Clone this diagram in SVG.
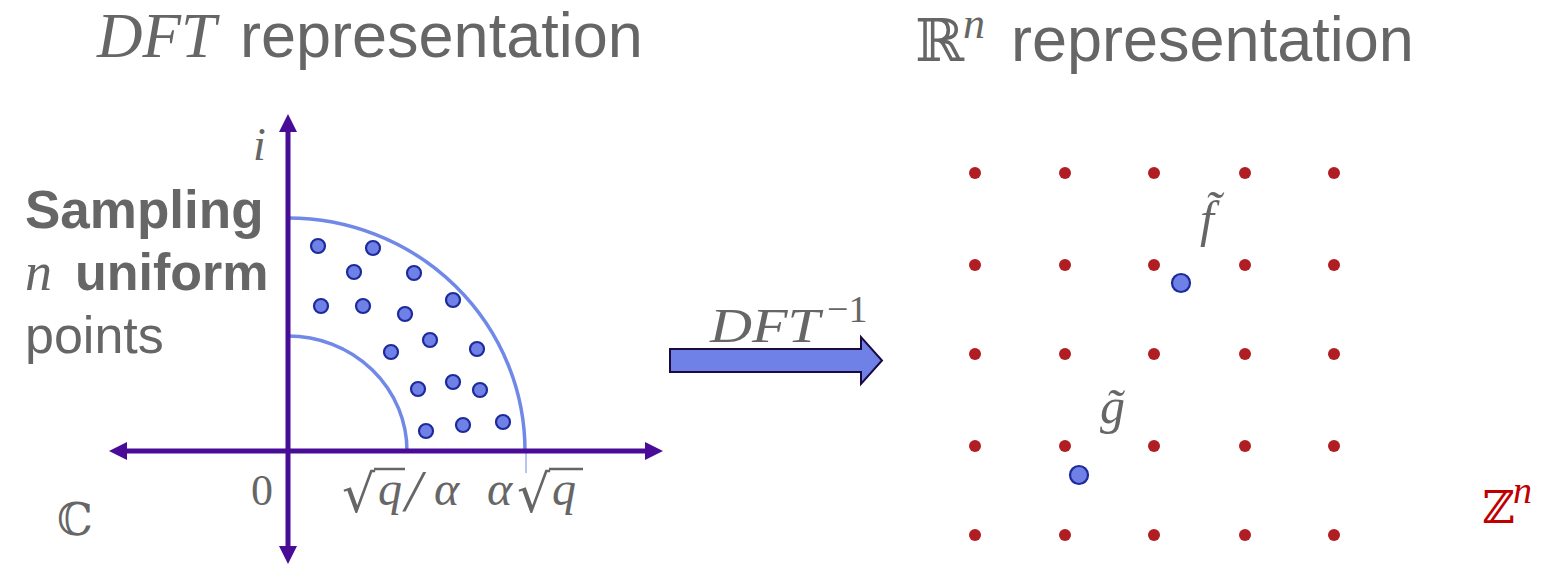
<svg xmlns="http://www.w3.org/2000/svg" width="1543" height="566" viewBox="0 0 1543 566">
<style>
.t{font-family:"Liberation Sans",Arial,sans-serif;fill:#666}
.m{font-family:"Liberation Serif","Times New Roman",serif;font-style:italic;fill:#666}
.mr{font-family:"Liberation Serif","Times New Roman",serif;fill:#666}
.ds{font-family:"DejaVu Serif",serif;fill:#666}
.rt{font-family:"DejaVu Sans",sans-serif;fill:#666}
.b{font-weight:bold}
.arc{fill:none;stroke:#7088e8;stroke-width:3.5}
.pt{fill:#6f80e6;stroke:#1c2a9c;stroke-width:2.2}
.rd{fill:#b01e24}
.red{fill:#c00000}
.ax{stroke:#480c96;stroke-width:5;fill:none}
.vin{stroke:#666;stroke-width:2.5}
</style>
<defs>
<marker id="ah" viewBox="0 0 18 18" refX="4" refY="9" markerWidth="18" markerHeight="18" markerUnits="userSpaceOnUse" orient="auto-start-reverse">
<path d="M0,0 L18,9 L0,18 z" fill="#480c96"/>
</marker>
</defs>

<g id="title-dft">
<text class="m" x="97" y="57" font-size="63">DFT</text>
<text class="t" x="240" y="57" font-size="63">representation</text>
</g>

<g id="title-rn">
<text class="ds" x="915" y="61" font-size="59">ℝ</text>
<text class="m" x="963" y="38" font-size="44">n</text>
<text class="t" x="1011" y="61" font-size="63">representation</text>
</g>

<g id="sampling-label">
<text class="t b" x="25" y="228" font-size="53">Sampling</text>
<text class="m" x="25" y="290" font-size="54">n</text>
<text class="t b" x="75" y="290" font-size="52">uniform</text>
<text class="t" x="25" y="353" font-size="52">points</text>
</g>

<g id="complex-plane">
<path class="arc" d="M288,218 A237,233 0 0 1 525,451"/>
<path class="arc" d="M288,336 A119,115 0 0 1 407,451"/>
<line x1="526" y1="451" x2="526" y2="473" stroke="#7088e8" stroke-width="1"/>
<circle class="pt" cx="318" cy="246" r="7"/>
<circle class="pt" cx="373" cy="248" r="7"/>
<circle class="pt" cx="354" cy="272" r="7"/>
<circle class="pt" cx="414" cy="273" r="7"/>
<circle class="pt" cx="321" cy="306" r="7"/>
<circle class="pt" cx="363" cy="306" r="7"/>
<circle class="pt" cx="405" cy="314" r="7"/>
<circle class="pt" cx="453" cy="300" r="7"/>
<circle class="pt" cx="430" cy="340" r="7"/>
<circle class="pt" cx="391" cy="352" r="7"/>
<circle class="pt" cx="477" cy="349" r="7"/>
<circle class="pt" cx="418" cy="389" r="7"/>
<circle class="pt" cx="453" cy="382" r="7"/>
<circle class="pt" cx="480" cy="390" r="7"/>
<circle class="pt" cx="426" cy="431" r="7"/>
<circle class="pt" cx="463" cy="425" r="7"/>
<circle class="pt" cx="503" cy="422" r="7"/>
<text class="m" x="253" y="160" font-size="46">i</text>
<text class="mr" x="251" y="505" font-size="44">0</text>
<text class="ds" x="57" y="535" font-size="45">ℂ</text>
<text class="rt" x="342" y="512" font-size="52">√</text>
<text class="m" x="378" y="505" font-size="48">q</text>
<line class="vin" x1="374" y1="469" x2="405" y2="469"/>
<text class="m" x="405" y="511" font-size="60">/</text>
<text class="m" x="434" y="505" font-size="48">α</text>
<text class="m" x="487" y="505" font-size="48">α</text>
<text class="rt" x="517" y="512" font-size="52">√</text>
<text class="m" x="552" y="505" font-size="48">q</text>
<line class="vin" x1="549" y1="469" x2="583" y2="469"/>
</g>

<g id="connectors">
<line class="ax" x1="288" y1="128" x2="288" y2="550" marker-start="url(#ah)" marker-end="url(#ah)"/>
<line class="ax" x1="123" y1="451" x2="649" y2="451" marker-start="url(#ah)" marker-end="url(#ah)"/>
<polygon points="670,349 861,349 861,337 882,360.5 861,384 861,372 670,372" fill="#6f80e6" stroke="#1a0a40" stroke-width="2"/>
</g>

<g id="arrow-label">
<text class="m" x="710" y="342" font-size="48" textLength="110" lengthAdjust="spacingAndGlyphs">DFT</text>
<text class="mr" x="827" y="322" font-size="38">−1</text>
</g>

<g id="lattice">
<circle class="rd" cx="975" cy="173" r="6"/><circle class="rd" cx="1065" cy="173" r="6"/><circle class="rd" cx="1154" cy="173" r="6"/><circle class="rd" cx="1245" cy="173" r="6"/><circle class="rd" cx="1334" cy="173" r="6"/>
<circle class="rd" cx="975" cy="265" r="6"/><circle class="rd" cx="1065" cy="265" r="6"/><circle class="rd" cx="1154" cy="265" r="6"/><circle class="rd" cx="1245" cy="265" r="6"/><circle class="rd" cx="1334" cy="265" r="6"/>
<circle class="rd" cx="975" cy="354" r="6"/><circle class="rd" cx="1065" cy="354" r="6"/><circle class="rd" cx="1154" cy="354" r="6"/><circle class="rd" cx="1245" cy="354" r="6"/><circle class="rd" cx="1334" cy="354" r="6"/>
<circle class="rd" cx="975" cy="446" r="6"/><circle class="rd" cx="1065" cy="446" r="6"/><circle class="rd" cx="1154" cy="446" r="6"/><circle class="rd" cx="1245" cy="446" r="6"/><circle class="rd" cx="1334" cy="446" r="6"/>
<circle class="rd" cx="975" cy="535" r="6"/><circle class="rd" cx="1065" cy="535" r="6"/><circle class="rd" cx="1154" cy="535" r="6"/><circle class="rd" cx="1245" cy="535" r="6"/><circle class="rd" cx="1334" cy="535" r="6"/>
<text class="ds red" x="1482" y="523" font-size="45" style="fill:#c00000">ℤ</text>
<text class="m red" x="1513" y="503" font-size="38" style="fill:#c00000">n</text>
</g>

<g id="point-f">
<circle class="pt" cx="1181" cy="283" r="9" stroke-width="2.5"/>
<text class="m" x="1200" y="236" font-size="50">f̃</text>
</g>

<g id="point-g">
<circle class="pt" cx="1079" cy="475" r="9" stroke-width="2.5"/>
<text class="m" x="1100" y="423" font-size="50">g̃</text>
</g>
</svg>
